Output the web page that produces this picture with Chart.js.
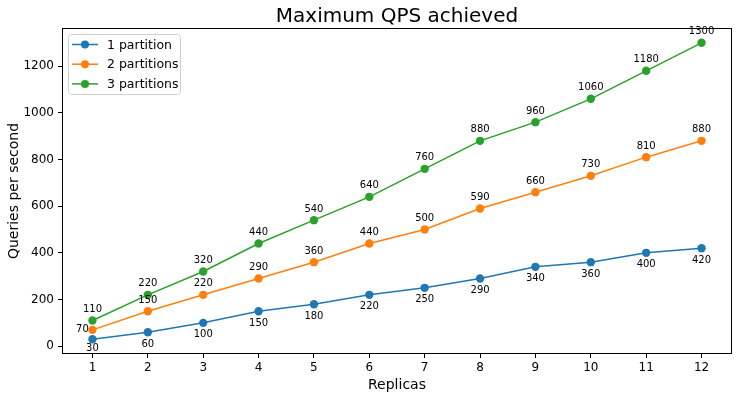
<!DOCTYPE html>
<html>
<head>
<meta charset="utf-8">
<script src="https://cdn.jsdelivr.net/npm/chart.js@4"></script>
<style>
  html, body { margin: 0; padding: 0; background: #fff; }
  #wrap { width: 742px; height: 399px; position: relative; }
</style>
</head>
<body>
<div id="wrap"><canvas id="qpsChart" width="742" height="399"></canvas></div>
<script>
// Data
const replicas = [1, 2, 3, 4, 5, 6, 7, 8, 9, 10, 11, 12];
const onePartition = [30, 60, 100, 150, 180, 220, 250, 290, 340, 360, 400, 420];
const twoPartitions = [70, 150, 220, 290, 360, 440, 500, 590, 660, 730, 810, 880];
const threePartitions = [110, 220, 320, 440, 540, 640, 760, 880, 960, 1060, 1180, 1300];
const yTicks = [0, 200, 400, 600, 800, 1000, 1200];

const FONT = "'DejaVu Sans', sans-serif";

function makeSet(label, values, color, labelPos) {
    return {
        label,
        data: replicas.map((r, i) => ({ x: r, y: values[i] })),
        borderColor: color,
        backgroundColor: color,
        pointBackgroundColor: color,
        pointBorderColor: color,
        pointBorderWidth: 0,
        borderWidth: 1.5,
        pointRadius: 4.2,
        pointHoverRadius: 4.2,
        tension: 0,
        labelPos
    };
}

// Value labels next to each point
const valueLabels = {
    id: 'valueLabels',
    afterDatasetsDraw(chart) {
        const ctx = chart.ctx;
        ctx.save();
        ctx.font = `10px ${FONT}`;
        ctx.fillStyle = '#000';
        ctx.textAlign = 'center';
        ctx.textBaseline = 'middle';
        chart.data.datasets.forEach((ds, di) => {
            const meta = chart.getDatasetMeta(di);
            meta.data.forEach((pt, i) => {
                let x = pt.x, y = pt.y;
                if (ds.labelPos === 'below') {
                    y += i === 0 ? 9 : 12;
                } else if (di === 1 && i === 0) {
                    x -= 10;
                } else {
                    y -= 11;
                }
                ctx.fillText(String(ds.data[i].y), x, y);
            });
        });
        ctx.restore();
    }
};

// Title, frame and legend box inside plot
const decorations = {
    id: 'decorations',
    afterDraw(chart) {
        const ctx = chart.ctx;
        const a = chart.chartArea;
        ctx.save();
        ctx.strokeStyle = '#000';
        ctx.lineWidth = 1;
        ctx.strokeRect(a.left + 0.5, a.top + 0.5, a.right - a.left - 1, a.bottom - a.top - 1);

        ctx.fillStyle = '#000';
        ctx.font = `20px ${FONT}`;
        ctx.textAlign = 'center';
        ctx.textBaseline = 'middle';
        ctx.fillText('Maximum QPS achieved', (a.left + a.right) / 2, 17);

        // legend
        const lx = 68, ly = 34, lw = 112, lh = 60;
        ctx.fillStyle = 'rgba(255,255,255,0.8)';
        ctx.strokeStyle = '#d0d0d0';
        ctx.beginPath();
        ctx.roundRect(lx + 0.5, ly + 0.5, lw, lh, 3);
        ctx.fill();
        ctx.stroke();
        ctx.font = `12.5px ${FONT}`;
        ctx.textAlign = 'left';
        chart.data.datasets.forEach((ds, i) => {
            const y = ly + 10.5 + i * 19.7;
            ctx.strokeStyle = ds.borderColor;
            ctx.lineWidth = 1.5;
            ctx.beginPath();
            ctx.moveTo(lx + 4, y);
            ctx.lineTo(lx + 30, y);
            ctx.stroke();
            ctx.fillStyle = ds.borderColor;
            ctx.beginPath();
            ctx.arc(lx + 17, y, 4, 0, Math.PI * 2);
            ctx.fill();
            ctx.fillStyle = '#000';
            ctx.fillText(ds.label, lx + 39, y + 1);
        });
        ctx.restore();
    }
};

new Chart(document.getElementById('qpsChart'), {
    type: 'line',
    data: {
        datasets: [
            makeSet('1 partition', onePartition, '#1f77b4', 'below'),
            makeSet('2 partitions', twoPartitions, '#ff7f0e', 'above'),
            makeSet('3 partitions', threePartitions, '#2ca02c', 'above')
        ]
    },
    options: {
        responsive: false,
        animation: false,
        events: [],
        layout: { padding: { top: 28, right: 10, left: 6, bottom: 5 } },
        plugins: {
            legend: { display: false },
            title: { display: false },
            tooltip: { enabled: false }
        },
        scales: {
            x: {
                type: 'linear',
                min: 0.45,
                max: 12.55,
                grid: { display: true, drawOnChartArea: false, tickLength: 4, tickColor: '#000' },
                border: { display: false },
                afterBuildTicks(scale) { scale.ticks = replicas.map(v => ({ value: v })); },
                ticks: { color: '#000', font: { family: FONT, size: 12 }, padding: 3, maxRotation: 0, callback: v => String(v) },
                title: { display: true, text: 'Replicas', color: '#000', font: { family: FONT, size: 14 }, padding: { top: 0, bottom: 0 } },
                afterFit(scale) { scale.height = 40; }
            },
            y: {
                min: -33.5,
                max: 1363.5,
                grid: { display: true, drawOnChartArea: false, tickLength: 4, tickColor: '#000' },
                border: { display: false },
                afterBuildTicks(scale) { scale.ticks = yTicks.map(v => ({ value: v })); },
                ticks: {
                    color: '#000', font: { family: FONT, size: 12 }, padding: 4,
                    callback: v => String(v)
                },
                title: { display: true, text: 'Queries per second', color: '#000', font: { family: FONT, size: 14 }, padding: { top: 0, bottom: 2 } },
                afterFit(scale) { scale.width = 56; }
            }
        }
    },
    plugins: [valueLabels, decorations]
});
</script>
</body>
</html>
